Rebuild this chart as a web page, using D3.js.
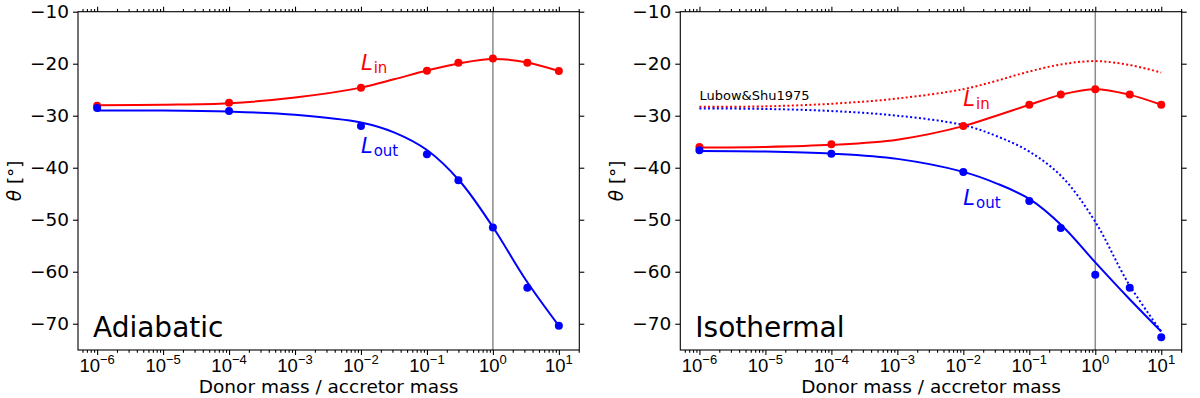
<!DOCTYPE html>
<html lang="en">
<head>
<meta charset="utf-8">
<title>Tilt angle vs mass ratio</title>
<script src="https://cdn.jsdelivr.net/npm/d3@7"></script>
<style>
  body { margin: 0; background: #fff; }
  svg { display: block; font-family: "DejaVu Sans", sans-serif; }
</style>
</head>
<body>
<div id="chart"></div>
<script>
// simulated mass ratios (markers)
const qPoints = [1e-6, 1e-4, 1e-2, 1e-1, 0.3, 1, 3.33, 10];
const adiabaticIn  = [-28.1, -27.5, -24.6, -21.35, -19.8, -19.0, -19.8, -21.4];
const adiabaticOut = [-28.5, -29.1, -32.0, -37.4, -42.4, -51.5, -63.1, -70.4];
const isothermalIn  = [-36.0, -35.5, -32.0, -27.9, -25.9, -24.9, -25.9, -27.9];
const isothermalOut = [-36.65, -37.3, -40.8, -46.4, -51.6, -60.6, -63.1, -72.6];

// fitted curves, read at half decades
const qFit = [1e-6, 1e-5, 1e-4, 1e-3, 1e-2, 0.0316, 0.1, 0.316, 1, 3.16, 10];
const adiabaticInFit  = [-28.0, -27.9, -27.6, -26.5, -24.6, -23.0, -21.3, -19.9, -19.1, -19.7, -21.4];
const adiabaticOutFit = [-29.0, -29.0, -29.2, -29.8, -31.3, -33.2, -36.6, -42.6, -51.4, -61.6, -70.4];
const isothermalInFit  = [-36.1, -36.0, -35.6, -34.6, -32.0, -30.0, -27.9, -25.9, -24.9, -25.9, -27.9];
const isothermalOutFit = [-36.8, -36.9, -37.3, -38.3, -40.8, -43.0, -46.0, -51.2, -58.2, -65.0, -71.5];
// Lubow & Shu 1975 (dotted)
const lubowIn  = [-28.3, -28.2, -27.7, -26.7, -24.9, -23.3, -21.5, -20.1, -19.5, -20.2, -21.7];
const lubowOut = [-28.6, -28.7, -29.1, -30.0, -31.8, -33.9, -36.9, -41.8, -50.4, -62.2, -71.5];

const yTicks = [-70, -60, -50, -40, -30, -20, -10];
const xTicks = [1e-6, 1e-5, 1e-4, 1e-3, 1e-2, 1e-1, 1, 10];
const xExps = ["−6", "−5", "−4", "−3", "−2", "−1", "0", "1"];

const W = 1200, H = 398;
const svg = d3.select("#chart").append("svg").attr("width", W).attr("height", H);

const yTop = 11.7, yBottom = 350;
const panels = [
  { left: 78, right: 579.3, title: "Adiabatic", pin: adiabaticIn, pout: adiabaticOut,
    fin: adiabaticInFit, fout: adiabaticOutFit, lin: [1e-2, -21.2], lout: [1e-2, -37.2] },
  { left: 680.3, right: 1181.7, title: "Isothermal", pin: isothermalIn, pout: isothermalOut,
    fin: isothermalInFit, fout: isothermalOutFit, lin: [1e-2, -28.1], lout: [1e-2, -47.2], lubow: true }
];

// minor ticks
let minor = [];
for (let e = -7; e <= 1; e++) {
  for (let m = 2; m <= 9; m++) minor.push(m * Math.pow(10, e));
}

panels.forEach(function (p) {
  let x = d3.scaleLog().domain([Math.pow(10, -6.29), Math.pow(10, 1.31)]).range([p.left, p.right]);
  let y = d3.scaleLinear().domain([-75.05, -10]).range([yBottom, yTop]);
  let mnr = minor.filter(function (v) { return v >= x.domain()[0] && v <= x.domain()[1]; });

  let g = svg.append("g");

  // vertical line at q = 1
  g.append("line")
    .attr("x1", x(1)).attr("x2", x(1))
    .attr("y1", yTop).attr("y2", yBottom)
    .attr("stroke", "#8c8c8c").attr("stroke-width", 1.5);

  let line = d3.line()
    .x(function (d) { return x(d[0]); })
    .y(function (d) { return y(d[1]); })
    .curve(d3.curveCatmullRom);

  if (p.lubow) {
    [[lubowIn, "#ff0000"], [lubowOut, "#0000ff"]].forEach(function (s) {
      g.append("path")
        .datum(qFit.map(function (q, i) { return [q, s[0][i]]; }))
        .attr("d", line)
        .attr("fill", "none")
        .attr("stroke", s[1])
        .attr("stroke-width", 2)
        .attr("stroke-dasharray", "2,2.4");
    });
    g.append("text")
      .attr("x", x(1e-6)).attr("y", y(-27.0))
      .attr("font-size", 13)
      .text("Lubow&Shu1975");
  }

  [[p.fin, p.pin, "#ff0000"], [p.fout, p.pout, "#0000ff"]].forEach(function (s) {
    g.append("path")
      .datum(qFit.map(function (q, i) { return [q, s[0][i]]; }))
      .attr("d", line)
      .attr("fill", "none")
      .attr("stroke", s[2])
      .attr("stroke-width", 2);
    g.selectAll(null)
      .data(qPoints.map(function (q, i) { return [q, s[1][i]]; }))
      .enter()
      .append("circle")
        .attr("cx", function (d) { return x(d[0]); })
        .attr("cy", function (d) { return y(d[1]); })
        .attr("r", 4)
        .attr("fill", s[2]);
  });

  // L_in / L_out labels
  [[p.lin, "in", "#ff0000"], [p.lout, "out", "#0000ff"]].forEach(function (s) {
    let t = g.append("text")
      .attr("x", x(s[0][0])).attr("y", y(s[0][1]))
      .attr("fill", s[2]).attr("font-size", 21);
    t.append("tspan").attr("font-style", "italic").text("L");
    t.append("tspan").attr("font-size", 15).attr("dy", 3.3).attr("dx", 1).text(s[1]);
  });

  g.append("text")
    .attr("x", p.left + 15).attr("y", yBottom - 13.5)
    .attr("font-size", 28)
    .text(p.title);

  // axes
  let axB = g.append("g").attr("transform", "translate(0," + yBottom + ")")
    .call(d3.axisBottom(x).tickValues(xTicks).tickSize(5).tickPadding(4).tickFormat(""));
  g.append("g").attr("transform", "translate(0," + yBottom + ")")
    .call(d3.axisBottom(x).tickValues(mnr).tickSize(2.8).tickFormat(""));
  g.append("g").attr("transform", "translate(0," + yTop + ")")
    .call(d3.axisTop(x).tickValues(xTicks).tickSize(5).tickFormat(""));
  g.append("g").attr("transform", "translate(0," + yTop + ")")
    .call(d3.axisTop(x).tickValues(mnr).tickSize(2.8).tickFormat(""));
  g.append("g").attr("transform", "translate(" + p.left + ",0)")
    .call(d3.axisLeft(y).tickValues(yTicks).tickSize(5).tickPadding(4));
  g.append("g").attr("transform", "translate(" + p.right + ",0)")
    .call(d3.axisRight(y).tickValues(yTicks).tickSize(5).tickFormat(""));

  g.selectAll(".domain").remove();
  g.selectAll(".tick line").attr("stroke", "#000").attr("stroke-width", 1.1);
  g.selectAll(".tick text").attr("font-size", 18.5).attr("font-family", "DejaVu Sans").attr("fill", "#000");

  // log tick labels 10^n
  xTicks.forEach(function (v, i) {
    let t = axB.append("text")
      .attr("x", x(v)).attr("y", 21.7)
      .attr("text-anchor", "middle")
      .attr("font-size", 18.5).attr("fill", "#000");
    t.append("tspan").text("10");
    t.append("tspan").attr("font-size", 13).attr("dy", -7.5).text(xExps[i]);
  });

  // frame
  g.append("rect")
    .attr("x", p.left).attr("y", yTop)
    .attr("width", p.right - p.left).attr("height", yBottom - yTop)
    .attr("fill", "none").attr("stroke", "#000").attr("stroke-width", 1.1);

  g.append("text")
    .attr("x", (p.left + p.right) / 2).attr("y", 393)
    .attr("text-anchor", "middle").attr("font-size", 18.5)
    .text("Donor mass / accretor mass");

  let cy = (yTop + yBottom) / 2;
  let yl = g.append("text")
    .attr("transform", "translate(" + (p.left - 57) + "," + cy + ") rotate(-90)")
    .attr("text-anchor", "middle").attr("font-size", 18.5);
  yl.append("tspan").attr("font-style", "italic").text("θ");
  yl.append("tspan").text(" [°]");
});
</script>
</body>
</html>
